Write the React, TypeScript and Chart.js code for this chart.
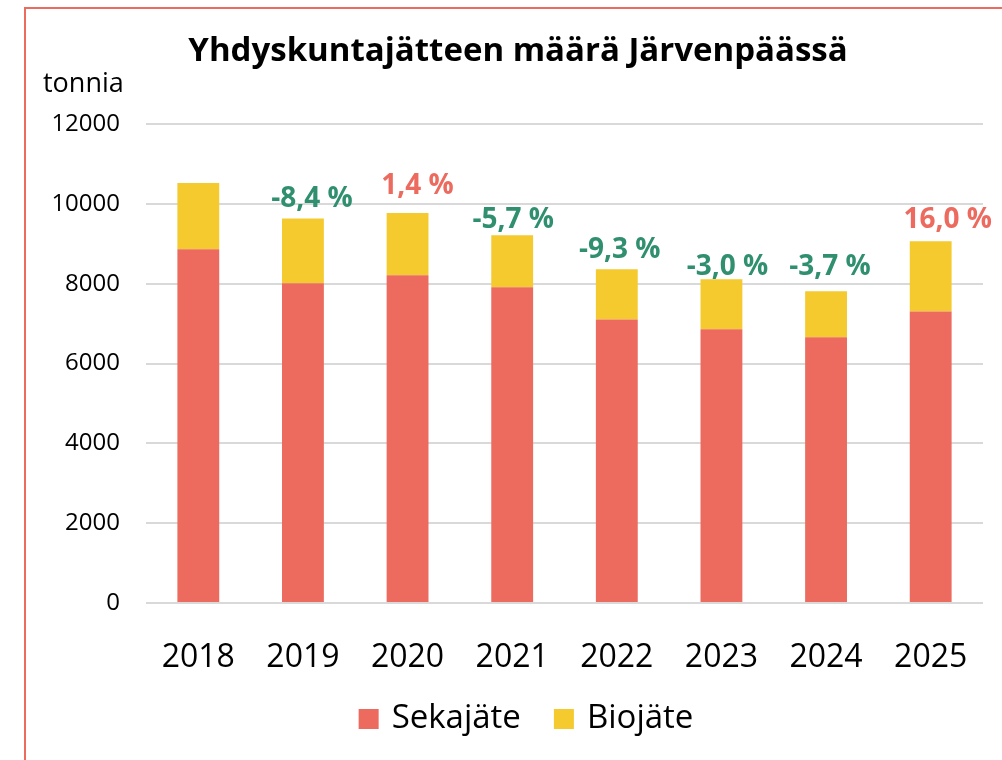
import React, { useEffect, useRef } from "react";
import { Chart, registerables } from "chart.js";

Chart.register(...registerables);

const years = ["2018", "2019", "2020", "2021", "2022", "2023", "2024", "2025"];
const sekajate = [8860, 8010, 8210, 7910, 7105, 6855, 6655, 7305];
const biojate = [1660, 1625, 1560, 1305, 1255, 1255, 1155, 1755];
const changeLabels = ["", "-8,4 %", "1,4 %", "-5,7 %", "-9,3 %", "-3,0 %", "-3,7 %", "16,0 %"];
const changeLabelLevel = [0, 10170, 10500, 9640, 8890, 8460, 8460, 9640];
const yTicks = [0, 2000, 4000, 6000, 8000, 10000, 12000];

const TITLE = "Yhdyskuntajätteen määrä Järvenpäässä";
const UNIT = "tonnia";
const FONT = "'Open Sans', sans-serif";
const RED = "#EC6A5E";
const YELLOW = "#F5CA2F";
const GREEN = "#2F8F6F";
const labelShift = [0, 9, 10, 1, 3, 6, 4, 17];

const overlayPlugin = {
  id: "overlay",
  afterDraw(chart: any) {
    const ctx = chart.ctx;
    const xs = chart.scales.x;
    const ys = chart.scales.y;
    ctx.save();
    ctx.fillStyle = "#000";
    ctx.textAlign = "center";
    ctx.textBaseline = "middle";
    ctx.font = `bold 33px ${FONT}`;
    ctx.fillText(TITLE, chart.width / 2 + 4, 43);
    ctx.font = `27px ${FONT}`;
    ctx.textAlign = "left";
    ctx.fillText(UNIT, 17, 75);
    ctx.textAlign = "center";
    ctx.font = `bold 28px ${FONT}`;
    changeLabels.forEach((t, i) => {
      if (!t) return;
      const x = xs.getPixelForValue(i) + labelShift[i];
      const y = ys.getPixelForValue(changeLabelLevel[i]) + 2;
      ctx.fillStyle = t.trim().startsWith("-") ? GREEN : RED;
      ctx.fillText(t, x, y);
    });
    // legend
    const items = chart.data.datasets.map((d: any) => ({ text: d.label, color: d.backgroundColor }));
    ctx.font = `33px ${FONT}`;
    const box = 20, gapBox = 13, gapItem = 33;
    const widths = items.map((it: any) => box + gapBox + ctx.measureText(it.text).width);
    const total = widths.reduce((a: number, b: number) => a + b, 0) + gapItem * (items.length - 1);
    let x = chart.width / 2 + 12 - total / 2;
    const cy = 710;
    ctx.textAlign = "left";
    items.forEach((it: any, i: number) => {
      ctx.fillStyle = it.color;
      ctx.fillRect(x, cy - box / 2, box, box);
      ctx.fillStyle = "#000";
      ctx.fillText(it.text, x + box + gapBox, cy);
      x += widths[i] + gapItem;
    });
    ctx.restore();
  },
};

export default function App() {
  const ref = useRef<HTMLCanvasElement>(null);
  useEffect(() => {
    if (!ref.current) return;
    const chart = new Chart(ref.current, {
      type: "bar",
      data: {
        labels: years,
        datasets: [
          { label: "Sekajäte", data: sekajate, backgroundColor: RED, categoryPercentage: 1, barPercentage: 0.4 },
          { label: "Biojäte", data: biojate, backgroundColor: YELLOW, categoryPercentage: 1, barPercentage: 0.4 },
        ],
      },
      options: {
        responsive: false,
        animation: false,
        layout: { padding: { left: 0, right: 19, top: 115, bottom: 0 } },
        plugins: {
          title: { display: false },
          tooltip: { enabled: false },
          legend: { display: false },
        },
        scales: {
          x: {
            stacked: true,
            grid: { display: false },
            border: { display: false },
            ticks: { color: "#000", font: { family: FONT, size: 32 }, padding: 28 },
            afterFit: (s: any) => {
              s.height = 157;
            },
          },
          y: {
            stacked: true,
            min: 0,
            max: 12000,
            afterBuildTicks: (s: any) => {
              s.ticks = yTicks.map((v) => ({ value: v }));
            },
            afterFit: (s: any) => {
              s.width = 120;
            },
            grid: { color: "#D9D9D9", lineWidth: 2, drawTicks: false },
            border: { display: false },
            ticks: {
              color: "#000",
              font: { family: FONT, size: 24 },
              padding: 26,
              callback: (v: any) => String(v),
            },
          },
        },
      },
      plugins: [overlayPlugin],
    } as any);
    return () => chart.destroy();
  }, []);
  return (
    <div style={{ position: "fixed", inset: 0, overflow: "hidden", background: "#fff" }}>
      <div
        style={{
          position: "absolute",
          left: 24,
          top: 7,
          width: 1000,
          height: 780,
          border: `2px solid ${RED}`,
          boxSizing: "border-box",
        }}
      >
        <canvas ref={ref} width={976} height={751} style={{ display: "block" }} />
      </div>
    </div>
  );
}
